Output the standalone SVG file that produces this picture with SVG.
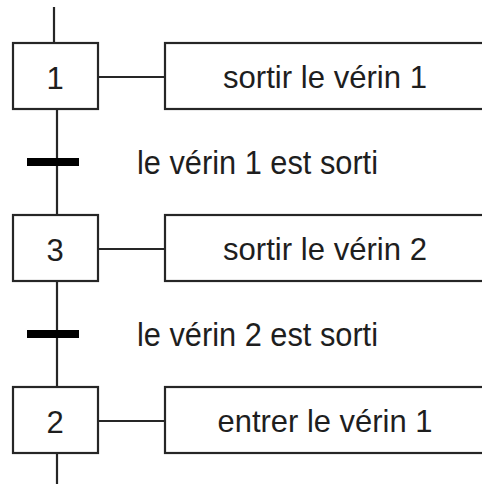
<svg xmlns="http://www.w3.org/2000/svg" width="482" height="484" viewBox="0 0 482 484">
  <style>
    .box { fill: #ffffff; stroke: #262626; stroke-width: 2.2; }
    .wire { stroke: #262626; stroke-width: 2.2; fill: none; }
    .bar { fill: #000000; }
    text { font-family: "Liberation Sans", Arial, sans-serif; fill: #1e1e1e; }
    .num { font-size: 31px; text-anchor: middle; }
    .act { font-size: 32px; text-anchor: middle; }
    .cond { font-size: 33px; }
  </style>
  <rect width="482" height="484" fill="#ffffff"/>

  <!-- vertical links and step-to-action links -->
  <g id="connectors">
    <line class="wire" x1="54" y1="7" x2="54" y2="43"/>
    <line class="wire" x1="57" y1="109" x2="57" y2="215"/>
    <line class="wire" x1="57" y1="281" x2="57" y2="387"/>
    <line class="wire" x1="57" y1="453" x2="57" y2="484"/>
    <line class="wire" x1="98" y1="77" x2="165" y2="77"/>
    <line class="wire" x1="98" y1="249" x2="165" y2="249"/>
    <line class="wire" x1="98" y1="421" x2="165" y2="421"/>
  </g>

  <g id="transition-1">
    <rect class="bar" x="27" y="158" width="52" height="8"/>
    <text class="cond" x="137" y="174" textLength="241" lengthAdjust="spacingAndGlyphs">le vérin 1 est sorti</text>
  </g>
  <g id="transition-2">
    <rect class="bar" x="27" y="330" width="52" height="8"/>
    <text class="cond" x="137" y="346" textLength="241" lengthAdjust="spacingAndGlyphs">le vérin 2 est sorti</text>
  </g>

  <g id="step-1">
    <rect class="box" x="13" y="43" width="85" height="66"/>
    <text class="num" x="55" y="89">1</text>
  </g>
  <g id="action-1">
    <rect class="box" x="165" y="43" width="330" height="66"/>
    <text class="act" x="325" y="88" textLength="204" lengthAdjust="spacingAndGlyphs">sortir le vérin 1</text>
  </g>

  <g id="step-3">
    <rect class="box" x="13" y="215" width="85" height="66"/>
    <text class="num" x="55" y="261">3</text>
  </g>
  <g id="action-2">
    <rect class="box" x="165" y="215" width="330" height="66"/>
    <text class="act" x="325" y="260" textLength="204" lengthAdjust="spacingAndGlyphs">sortir le vérin 2</text>
  </g>

  <g id="step-2">
    <rect class="box" x="13" y="387" width="85" height="66"/>
    <text class="num" x="55" y="433">2</text>
  </g>
  <g id="action-3">
    <rect class="box" x="165" y="387" width="330" height="66"/>
    <text class="act" x="325" y="432" textLength="215" lengthAdjust="spacingAndGlyphs">entrer le vérin 1</text>
  </g>
</svg>
